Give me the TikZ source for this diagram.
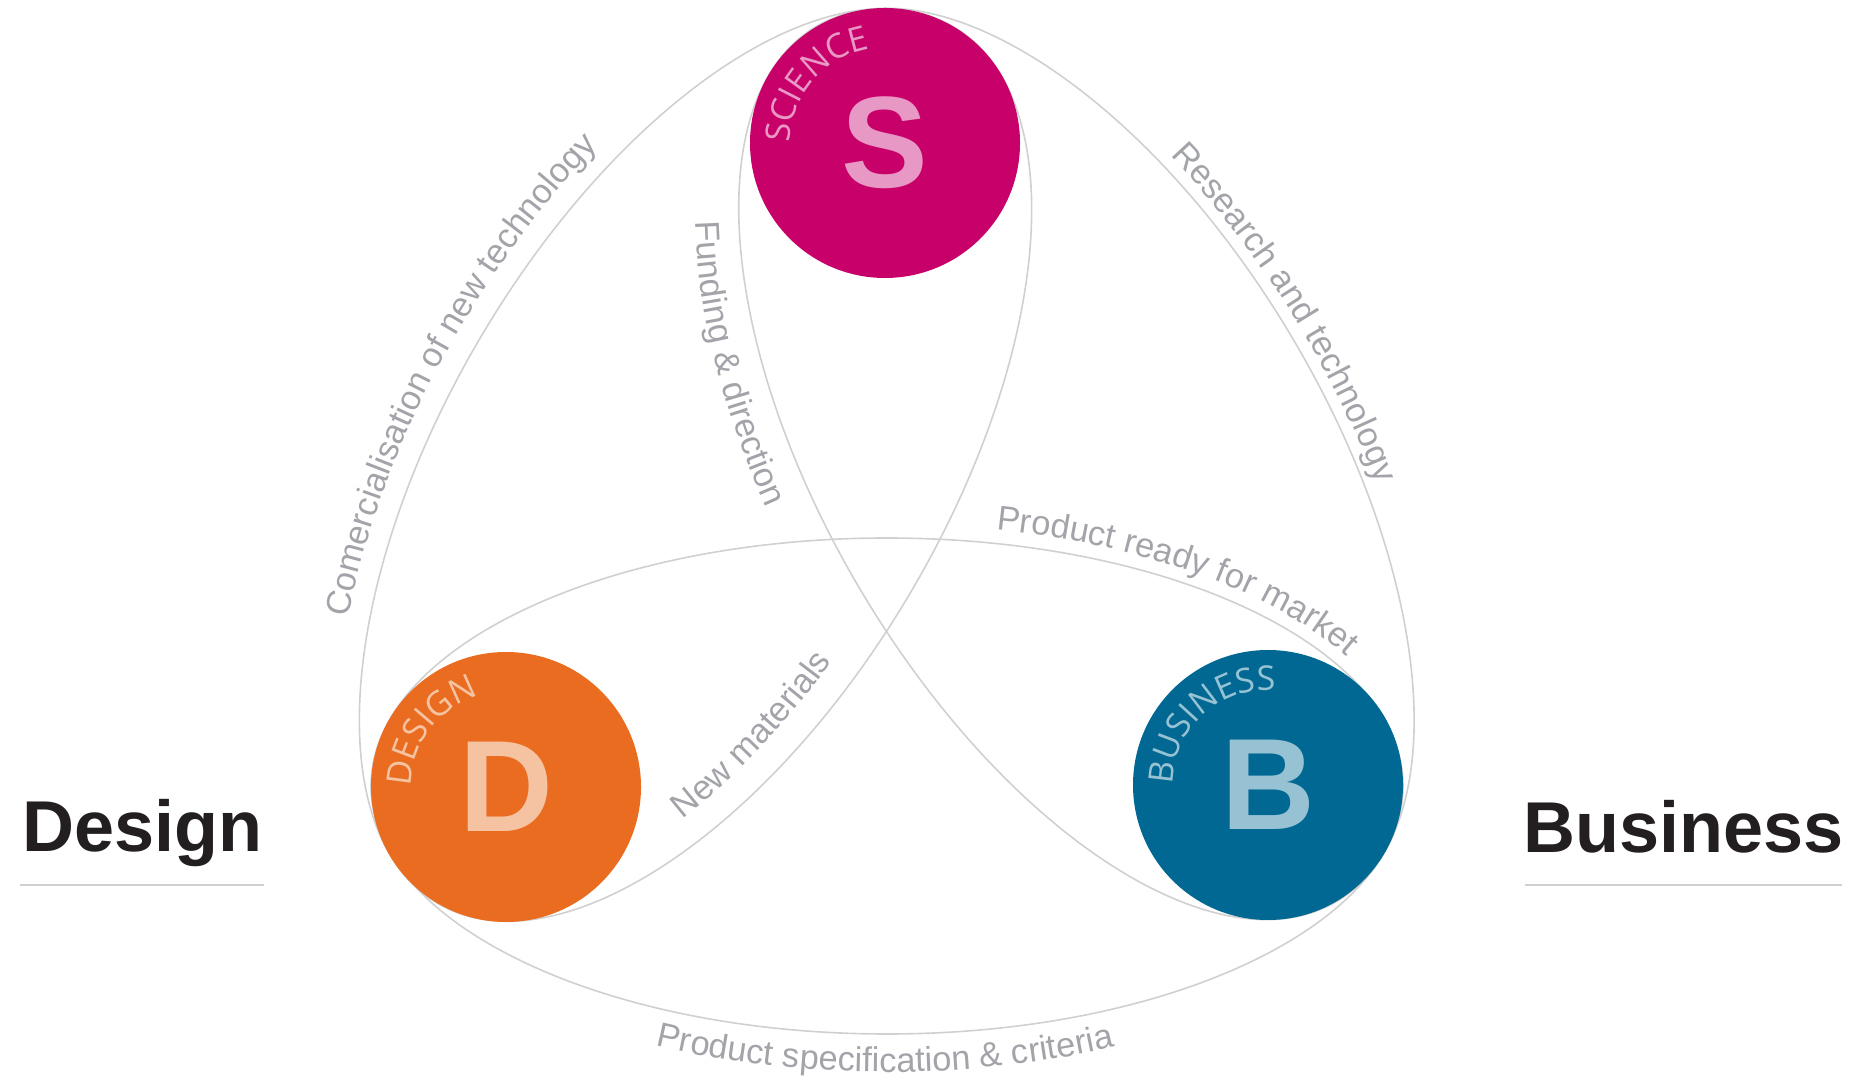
\documentclass[tikz,border=0pt]{standalone}
\usepackage{fontspec}
\usepackage{xcolor}
\usepackage{tikz}
\usetikzlibrary{calc,decorations.text}
\setmainfont{Liberation Sans}
\newfontfamily\opensans{Open Sans}
\definecolor{scifill}{RGB}{200,0,106}
\definecolor{scitext}{RGB}{232,152,196}
\definecolor{desfill}{RGB}{233,108,32}
\definecolor{destext}{RGB}{245,195,162}
\definecolor{busfill}{RGB}{0,104,146}
\definecolor{bustext}{RGB}{150,194,212}
\definecolor{loopgray}{RGB}{208,208,208}
\definecolor{labelgray}{RGB}{163,164,170}
\definecolor{headblack}{RGB}{35,31,32}
\pgfkeys{tikz/loopline/.style={draw=loopgray,line width=0.8pt}}
\pgfkeys{tikz/hub/.style={circle,inner sep=0pt,minimum size=135pt,font=\fontsize{65}{70}\selectfont\bfseries}}
\pgfkeys{tikz/heading/.style={anchor=base west,inner sep=0pt,text=headblack,font=\fontsize{36}{40}\selectfont\bfseries}}
\pgfkeys{tikz/headrule/.style={draw=loopgray,line width=1pt}}
\newcommand\loopfont{\fontsize{17.2}{20}\selectfont\color{labelgray}}
\newcommand\hubfont{\opensans\fontsize{17}{19}\selectfont}
\newcommand*\looplabel[7]{
    \begin{scope}[shift={(#1)},rotate=#2]
        \path[decorate,decoration={text along path,text={|\loopfont|#7}}]
            (#5:#3 and #4) arc[start angle=#5,end angle=#6,x radius=#3,y radius=#4];
    \end{scope}
}
\newcommand*\hubtitle[3]{
    \path[decorate,decoration={text along path,text={|\hubfont\color{#2}|#3}}]
        ([shift={(180:95)}]#1.center) arc[start angle=180,end angle=30,radius=95];
}

\begin{document}
\begin{tikzpicture}[x=0.5pt,y=0.5pt]
    \useasboundingbox (0,0) rectangle (1850,1081);
    \coordinate (s) at (885,938);
    \coordinate (d) at (506,294);
    \coordinate (b) at (1268,296);
    \coordinate (sd) at ($(s)!0.5!(d)$);
    \coordinate (sb) at ($(s)!0.5!(b)$);
    \coordinate (db) at ($(d)!0.5!(b)$);
    \draw[loopline,rotate around={59.5:(sd)}] (sd) ellipse[x radius=508.5,y radius=250];
    \draw[loopline,rotate around={-59.2:(sb)}] (sb) ellipse[x radius=509,y radius=250];
    \draw[loopline] (db) ellipse[x radius=516,y radius=248];
    \looplabel{sd}{59.5}{530.5}{272}{125.5}{20}{Comercialisation of new technology}
    \looplabel{sb}{-59.2}{521}{262}{114.6}{0}{Research and technology}
    \looplabel{sb}{-59.2}{555}{296}{-136.6}{-40}{Funding {\&} direction}
    \looplabel{db}{0}{529}{262}{78.1}{-10}{Product ready for market}
    \looplabel{sd}{59.5}{480}{222}{-130.5}{-40}{New materials}
    \looplabel{db}{0}{554}{286}{-114.7}{-40}{Product specification {\&} criteria}
    \node[hub,fill=scifill,text=scitext] (sci) at (s) {S};
    \node[hub,fill=desfill,text=destext] (des) at (d) {D};
    \node[hub,fill=busfill,text=bustext] (bus) at (b) {B};
    \hubtitle{sci}{scitext}{SCIENCE}
    \hubtitle{des}{destext}{DESIGN}
    \hubtitle{bus}{bustext}{BUSINESS}
    \node[heading] (design) at (22,229) {Design};
    \node[heading] (business) at (1523,228) {Business};
    \draw[headrule] (20,196) -- (264,196);
    \draw[headrule] (1525,196) -- (1842,196);
\end{tikzpicture}
\end{document}
